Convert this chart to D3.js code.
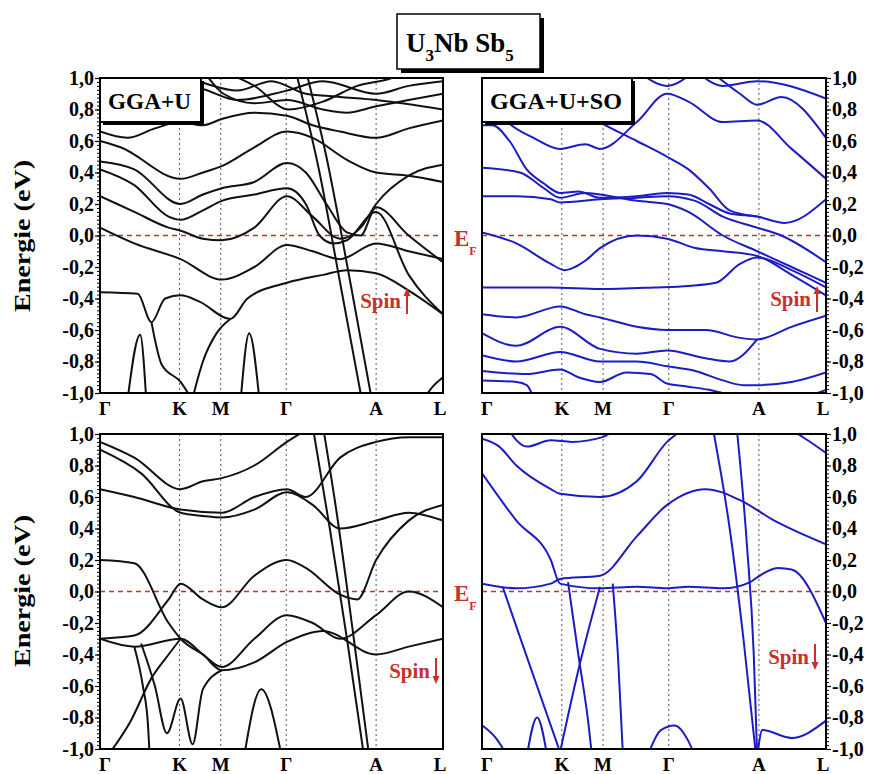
<!DOCTYPE html>
<html>
<head>
<meta charset="utf-8">
<script src="https://cdn.jsdelivr.net/npm/d3@7/dist/d3.min.js"></script>
<style>
  body { margin: 0; background: #fff; }
  svg text { font-family: "Liberation Serif", "Times New Roman", serif; font-weight: bold; }
</style>
</head>
<body>
<svg id="chart" width="875" height="774"></svg>
<script>
// High-symmetry points along the k-path (fraction of the path)
var kLabels = ["Γ", "K", "M", "Γ", "A", "L"];
var kTicks = [0, 0.232, 0.352, 0.543, 0.805, 1];

// Energy axis (eV)
var energyTicks = [-1, -0.8, -0.6, -0.4, -0.2, 0, 0.2, 0.4, 0.6, 0.8, 1];

// Bands, each one a list of [k, E] points
// spin up, GGA+U
var upGGAU = [
  [[0,0.97],[0.15,0.99],[0.3,0.93],[0.4,0.86],[0.545,0.92],[0.65,0.98],[0.805,0.9],[0.9,0.95],[1,0.98]],
  [[0.3,1.05],[0.36,0.9],[0.45,0.84],[0.545,0.86],[0.65,0.8],[0.72,0.78],[0.805,0.82],[0.9,0.86],[1,0.9]],
  [[0.2,1.05],[0.3,0.97],[0.4,0.92],[0.5,0.98],[0.6,0.9],[0.7,0.88],[0.805,0.86],[1,0.8]],
  [[0.35,1.05],[0.45,0.95],[0.55,0.8],[0.65,0.85],[0.75,0.95],[0.85,1.0],[0.9,1.05]],
  [[0,0.66],[0.08,0.62],[0.16,0.68],[0.235,0.72],[0.3,0.7],[0.355,0.74],[0.45,0.78],[0.545,0.76],[0.62,0.7],[0.7,0.66],[0.805,0.62],[0.9,0.68],[1,0.73]],
  [[0,0.6],[0.06,0.56],[0.235,0.36],[0.3,0.4],[0.355,0.44],[0.45,0.56],[0.545,0.66],[0.62,0.62],[0.72,0.48],[0.805,0.4],[0.9,0.38],[1,0.34]],
  [[0,0.47],[0.1,0.42],[0.235,0.2],[0.3,0.26],[0.355,0.3],[0.45,0.34],[0.545,0.46],[0.6,0.4],[0.66,0.2],[0.72,0.02],[0.76,0.0],[0.805,0.18],[0.9,0.0],[1,-0.17]],
  [[0,0.42],[0.1,0.32],[0.2,0.12],[0.235,0.1],[0.3,0.16],[0.355,0.22],[0.45,0.26],[0.545,0.3],[0.6,0.2],[0.64,0.0],[0.68,-0.05],[0.72,-0.03],[0.805,0.15],[0.9,-0.25],[1,-0.5]],
  [[0,0.25],[0.1,0.15],[0.2,0.05],[0.235,0.03],[0.3,-0.02],[0.355,-0.03],[0.45,0.05],[0.545,0.25],[0.62,0.12],[0.7,-0.02],[0.76,0.05],[0.805,0.2],[0.9,0.38],[1,0.45]],
  [[0,0.05],[0.1,-0.05],[0.235,-0.15],[0.355,-0.28],[0.45,-0.2],[0.545,-0.06],[0.62,-0.1],[0.7,-0.15],[0.805,-0.05],[0.9,-0.1],[1,-0.15]],
  [[0,-0.36],[0.11,-0.37],[0.15,-0.55],[0.19,-0.4],[0.235,-0.38],[0.29,-0.42],[0.38,-0.53],[0.43,-0.4],[0.545,-0.3],[0.65,-0.25],[0.72,-0.22],[0.805,-0.24],[0.9,-0.35],[1,-0.5]],
  [[0.57,1.05],[0.64,0.4],[0.7,-0.3],[0.764,-1.05]],
  [[0.6,1.05],[0.66,0.5],[0.73,-0.3],[0.793,-1.05]],
  [[0.08,-1.05],[0.117,-0.63],[0.135,-1.05]],
  [[0.15,-0.55],[0.18,-0.82],[0.235,-0.93],[0.27,-1.05]],
  [[0.268,-1.05],[0.3,-0.8],[0.34,-0.62],[0.38,-0.53]],
  [[0.41,-1.05],[0.435,-0.62],[0.465,-1.05]],
  [[0.94,-1.05],[0.97,-0.96],[1,-0.9]]
];

// spin up, GGA+U+SO
var upSO = [
  [[0,0.9],[0.04,0.8],[0.08,0.71],[0.15,0.62],[0.227,0.55],[0.3,0.58],[0.343,0.55],[0.45,0.72],[0.538,0.9],[0.6,0.85],[0.7,0.72],[0.8,0.73],[0.9,0.55],[1,0.36]],
  [[0,0.7],[0.03,0.7],[0.08,0.6],[0.13,0.42],[0.18,0.33],[0.227,0.27],[0.28,0.28],[0.343,0.24],[0.45,0.25],[0.538,0.27],[0.6,0.26],[0.66,0.2],[0.72,0.14],[0.8,0.12],[0.88,0.08],[1,0.23]],
  [[0,0.25],[0.1,0.25],[0.2,0.23],[0.227,0.21],[0.343,0.23],[0.45,0.24],[0.538,0.25],[0.62,0.22],[0.7,0.12],[0.8,0.05],[0.87,0.0],[1,-0.17]],
  [[0,0.43],[0.11,0.4],[0.18,0.3],[0.227,0.24],[0.3,0.27],[0.343,0.26],[0.45,0.22],[0.538,0.2],[0.6,0.15],[0.7,0.0],[0.8,-0.1],[0.9,-0.2],[1,-0.3]],
  [[0,0.02],[0.1,-0.05],[0.2,-0.18],[0.24,-0.22],[0.3,-0.16],[0.343,-0.08],[0.45,0.0],[0.538,-0.02],[0.62,-0.08],[0.7,-0.1],[0.8,-0.13],[0.9,-0.25],[1,-0.38]],
  [[0,-0.33],[0.2,-0.33],[0.343,-0.34],[0.5,-0.33],[0.6,-0.32],[0.68,-0.3],[0.75,-0.18],[0.8,-0.14],[0.9,-0.22],[1,-0.33]],
  [[0,-0.5],[0.1,-0.52],[0.227,-0.45],[0.3,-0.5],[0.343,-0.52],[0.45,-0.58],[0.538,-0.6],[0.65,-0.6],[0.75,-0.65],[0.8,-0.66],[0.9,-0.58],[1,-0.51]],
  [[0,-0.62],[0.1,-0.7],[0.227,-0.58],[0.343,-0.72],[0.45,-0.75],[0.538,-0.73],[0.65,-0.78],[0.72,-0.8],[0.8,-0.66]],
  [[0,-0.76],[0.1,-0.8],[0.227,-0.74],[0.343,-0.8],[0.45,-0.8],[0.538,-0.83],[0.62,-0.86],[0.7,-0.92],[0.76,-0.95],[0.79,-0.95],[0.9,-0.93],[1,-0.87]],
  [[0,-0.86],[0.13,-0.88],[0.227,-0.85],[0.28,-0.9],[0.343,-0.93],[0.42,-0.87],[0.49,-0.88],[0.538,-0.94],[0.6,-0.96],[0.66,-0.98],[0.73,-1.02]],
  [[0,-0.92],[0.1,-0.93],[0.13,-0.95],[0.15,-1.03]],
  [[0.45,1.05],[0.538,0.95],[0.62,1.05]],
  [[0.62,1.05],[0.7,0.95],[0.8,0.98],[1,0.87]],
  [[0.66,1.05],[0.75,0.9],[0.8,0.83],[0.87,0.88],[1,0.62]],
  [[0.1,1.05],[0.2,0.9],[0.3,0.78],[0.343,0.72],[0.45,0.6],[0.538,0.5],[0.6,0.42],[0.66,0.3],[0.72,0.16],[0.8,0.12]],
  [[0.95,-1.02],[1,-0.98]]
];

// spin down, GGA+U
var downGGAU = [
  [[0,0.95],[0.1,0.85],[0.235,0.65],[0.3,0.7],[0.355,0.72],[0.45,0.8],[0.545,0.95],[0.62,1.05]],
  [[0,0.9],[0.12,0.75],[0.235,0.5],[0.3,0.48],[0.355,0.47],[0.45,0.52],[0.545,0.63],[0.62,0.55],[0.7,0.4],[0.805,0.45],[0.9,0.5],[1,0.45]],
  [[0,0.65],[0.1,0.6],[0.235,0.52],[0.355,0.5],[0.45,0.6],[0.545,0.65],[0.6,0.6],[0.7,0.85],[0.805,0.95],[0.9,0.98],[1,0.98]],
  [[0,0.2],[0.1,0.18],[0.2,-0.2],[0.235,-0.3],[0.3,-0.4],[0.355,-0.48],[0.45,-0.3],[0.545,-0.15],[0.62,-0.2],[0.7,-0.3],[0.805,-0.15],[0.9,0.0],[1,-0.1]],
  [[0,-0.3],[0.1,-0.28],[0.2,-0.05],[0.235,0.05],[0.3,-0.05],[0.355,-0.1],[0.45,0.1],[0.545,0.2],[0.6,0.15],[0.7,-0.02],[0.75,-0.05],[0.805,0.2],[0.9,0.45],[1,0.55]],
  [[0,-0.3],[0.1,-0.35],[0.235,-0.3],[0.3,-0.4],[0.355,-0.5],[0.45,-0.45],[0.545,-0.32],[0.65,-0.25],[0.805,-0.4],[0.9,-0.35],[1,-0.3]],
  [[0.62,1.05],[0.67,0.4],[0.72,-0.3],[0.77,-1.05]],
  [[0.65,1.05],[0.69,0.5],[0.74,-0.3],[0.785,-1.05]],
  [[0.02,-1.05],[0.09,-0.82],[0.15,-0.55],[0.2,-0.4],[0.235,-0.3]],
  [[0.1,-0.35],[0.125,-0.6],[0.14,-0.85],[0.145,-1.05]],
  [[0.12,-0.33],[0.16,-0.6],[0.195,-0.9],[0.235,-0.68],[0.27,-0.97],[0.3,-0.62],[0.355,-0.5]],
  [[0.42,-1.05],[0.47,-0.62],[0.53,-1.05]]
];

// spin down, GGA+U+SO
var downSO = [
  [[0,0.97],[0.05,0.92],[0.1,0.8],[0.2,0.65],[0.227,0.62],[0.343,0.6],[0.45,0.7],[0.538,0.95],[0.6,1.05]],
  [[0.07,1.05],[0.13,0.92],[0.2,0.96],[0.26,0.95],[0.35,0.98],[0.4,1.05]],
  [[0,0.75],[0.1,0.45],[0.2,0.2],[0.227,0.05],[0.343,0.02],[0.45,0.03],[0.538,0.02],[0.6,0.03],[0.7,0.02],[0.78,0.06],[0.8,0.09],[0.86,0.15],[0.9,0.14],[1,-0.2]],
  [[0,0.05],[0.1,0.02],[0.2,0.05],[0.227,0.08],[0.343,0.1],[0.45,0.35],[0.538,0.55],[0.65,0.65],[0.75,0.58],[0.85,0.45],[1,0.3]],
  [[0.88,1.05],[0.94,0.97],[1,0.88]],
  [[0.67,1.05],[0.72,0.4],[0.76,-0.3],[0.797,-1.05]],
  [[0.74,1.05],[0.77,0.3],[0.79,-0.4],[0.8,-1.05]],
  [[0,-0.85],[0.04,-0.93],[0.075,-1.05]],
  [[0.13,-1.05],[0.16,-0.8],[0.19,-1.05]],
  [[0.06,0.03],[0.12,-0.35],[0.227,-1.02]],
  [[0.227,-1.02],[0.28,-0.5],[0.343,0.03]],
  [[0.25,0.06],[0.28,-0.4],[0.31,-0.85],[0.32,-1.05]],
  [[0.38,0.05],[0.395,-0.4],[0.41,-1.05]],
  [[0.48,-1.05],[0.52,-0.88],[0.56,-0.85],[0.6,-0.95],[0.62,-1.05]],
  [[0.8,-1.05],[0.815,-0.88],[0.9,-0.93],[1,-0.82]]
];

var svg = d3.select("#chart");
var red = "#c8302c";

// Panel placement
var panels = [
  { bands: upGGAU,   color: "#111",    x0: 100, x1: 443, y0: 78,  y1: 393, side: "left",  tag: "GGA+U",    spin: "up",   sx: 407, sy: 308 },
  { bands: upSO,     color: "#1c1cc4", x0: 482, x1: 826, y0: 78,  y1: 393, side: "right", tag: "GGA+U+SO", spin: "up",   sx: 817, sy: 306 },
  { bands: downGGAU, color: "#111",    x0: 100, x1: 443, y0: 434, y1: 749, side: "left",  tag: null,       spin: "down", sx: 436, sy: 678 },
  { bands: downSO,   color: "#1c1cc4", x0: 482, x1: 826, y0: 434, y1: 749, side: "right", tag: null,       spin: "down", sx: 815, sy: 664 }
];

var fmt = function(d) {
  return (d < 0 ? "-" : "") + Math.abs(d).toFixed(1).replace(".", ",");
};

panels.forEach(function(p, i) {
  var x = d3.scaleLinear().domain([0, 1]).range([p.x0, p.x1]);
  var y = d3.scaleLinear().domain([-1, 1]).range([p.y1, p.y0]);
  var g = svg.append("g").attr("class", "panel");

  // clip region for the bands
  svg.append("clipPath").attr("id", "clip" + i)
    .append("rect")
      .attr("x", p.x0).attr("y", p.y0)
      .attr("width", p.x1 - p.x0).attr("height", p.y1 - p.y0);

  // vertical lines at the high-symmetry points
  g.selectAll(".kline")
    .data(kTicks.slice(1, -1))
    .enter().append("line")
      .attr("x1", function(d) { return x(d); })
      .attr("x2", function(d) { return x(d); })
      .attr("y1", p.y0).attr("y2", p.y1)
      .attr("stroke", "#555").attr("stroke-width", 1)
      .attr("stroke-dasharray", "2,3");

  // Fermi level
  g.append("line")
    .attr("x1", p.x0).attr("x2", p.x1)
    .attr("y1", y(0)).attr("y2", y(0))
    .attr("stroke", red).attr("stroke-width", 1.3)
    .attr("stroke-dasharray", "5,4");

  // bands
  var line = d3.line()
    .x(function(d) { return x(d[0]); })
    .y(function(d) { return y(d[1]); })
    .curve(d3.curveMonotoneX);

  g.append("g").attr("clip-path", "url(#clip" + i + ")")
    .selectAll("path")
    .data(p.bands)
    .enter().append("path")
      .attr("d", line)
      .attr("fill", "none")
      .attr("stroke", p.color)
      .attr("stroke-width", 2);

  // frame
  g.append("rect")
    .attr("x", p.x0).attr("y", p.y0)
    .attr("width", p.x1 - p.x0).attr("height", p.y1 - p.y0)
    .attr("fill", "none").attr("stroke", "#000").attr("stroke-width", 2);

  // energy axis, major and minor ticks
  var minor = d3.range(-1, 1.0001, 0.025);
  var axisG = g.append("g")
    .attr("transform", "translate(" + (p.side == "left" ? p.x0 : p.x1) + ",0)");
  var mk = p.side == "left" ? d3.axisLeft : d3.axisRight;
  axisG.append("g")
    .call(mk(y).tickValues(minor).tickSize(3).tickFormat(""))
    .call(function(a) { a.select(".domain").remove(); });
  axisG.append("g")
    .call(mk(y).tickValues(energyTicks).tickSize(5).tickPadding(1).tickFormat(fmt))
    .call(function(a) {
      a.select(".domain").remove();
      a.selectAll("text")
        .attr("font-size", 20)
        .attr("font-family", "Liberation Serif, serif")
        .attr("font-weight", "bold")
        .attr("fill", "#000");
      a.selectAll("line").attr("stroke-width", 1.2);
    });

  // k-point labels
  g.selectAll(".klabel")
    .data(kLabels)
    .enter().append("text")
      .attr("x", function(d, j) {
        var xx = x(kTicks[j]);
        if (j == 0) xx += 5;
        if (j == kLabels.length - 1) xx -= 3;
        return xx;
      })
      .attr("y", p.y1 + 22)
      .attr("text-anchor", "middle")
      .attr("font-size", 19)
      .text(function(d) { return d; });

  // method tag
  if (p.tag) {
    var tw = p.tag == "GGA+U" ? 101 : 150;
    g.append("rect")
      .attr("x", p.x0 + 3).attr("y", p.y0 + 3)
      .attr("width", tw).attr("height", 44)
      .attr("fill", "#000");
    g.append("rect")
      .attr("x", p.x0).attr("y", p.y0)
      .attr("width", tw).attr("height", 44)
      .attr("fill", "#fff").attr("stroke", "#000").attr("stroke-width", 2);
    g.append("text")
      .attr("x", p.x0 + 8).attr("y", p.y0 + 31)
      .attr("font-size", 23)
      .attr("textLength", tw - 18)
      .attr("lengthAdjust", "spacingAndGlyphs")
      .text(p.tag);
  }

  // spin label with arrow
  g.append("text")
    .attr("x", p.sx - 6).attr("y", p.sy)
    .attr("text-anchor", "end")
    .attr("font-size", 21)
    .attr("fill", red)
    .text("Spin");
  var top = p.sy - 20, bot = p.sy + 6;
  var tip = p.spin == "up" ? top : bot;
  var dir = p.spin == "up" ? 1 : -1;   // +1: head points up
  g.append("line")
    .attr("x1", p.sx).attr("x2", p.sx)
    .attr("y1", top + (dir > 0 ? 5 : 0)).attr("y2", bot - (dir < 0 ? 5 : 0))
    .attr("stroke", red).attr("stroke-width", 2);
  g.append("path")
    .attr("d", "M" + (p.sx - 3.5) + "," + (tip + dir * 8) + " L" + p.sx + "," + tip +
               " L" + (p.sx + 3.5) + "," + (tip + dir * 8) + "Z")
    .attr("fill", red);
});

// E_F labels between the panels
[236, 591].forEach(function(yy) {
  var t = svg.append("text")
    .attr("x", 454).attr("y", yy + 10)
    .attr("font-size", 23)
    .attr("fill", red);
  t.append("tspan").text("E");
  t.append("tspan").attr("dy", 9).attr("font-size", 12).text("F");
});

// y-axis titles
[236, 591].forEach(function(yy) {
  svg.append("text")
    .attr("transform", "translate(30," + yy + ") rotate(-90)")
    .attr("text-anchor", "middle")
    .attr("font-size", 23)
    .attr("textLength", 152)
    .attr("lengthAdjust", "spacingAndGlyphs")
    .text("Energie (eV)");
});

// compound title box
svg.append("rect").attr("x", 401).attr("y", 18).attr("width", 143).attr("height", 55).attr("fill", "#000");
svg.append("rect").attr("x", 397).attr("y", 14).attr("width", 143).attr("height", 55)
  .attr("fill", "#fff").attr("stroke", "#000").attr("stroke-width", 1.5);
var title = svg.append("text").attr("x", 406).attr("y", 52).attr("font-size", 27);
title.append("tspan").text("U");
title.append("tspan").attr("dy", 9).attr("font-size", 17).text("3");
title.append("tspan").attr("dy", -9).text("Nb Sb");
title.append("tspan").attr("dy", 9).attr("font-size", 17).text("5");
</script>
</body>
</html>
